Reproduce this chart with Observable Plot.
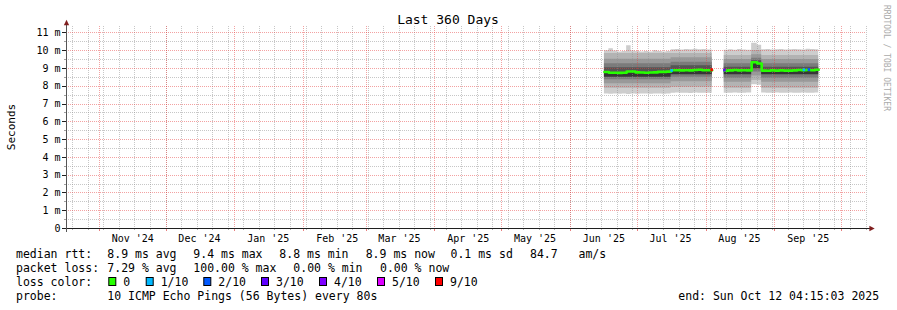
<!DOCTYPE html>
<html><head><meta charset="utf-8">
<script src="https://cdn.jsdelivr.net/npm/d3@7"></script>
<script src="https://cdn.jsdelivr.net/npm/@observablehq/plot@0.6"></script>
<style>
html,body{margin:0;padding:0;background:#fff;}
#wrap{position:relative;width:897px;height:310px;overflow:hidden;background:#fff;}
#wrap svg{position:absolute;left:0;top:0;}
</style></head><body><div id="wrap"></div>
<script>
// ---------- data ----------
const endTime = new Date("2025-10-12T04:15:03Z");
const startTime = new Date(endTime.getTime() - 360 * 864e5);
const yMax = 11.36;

const yTickValues = [0, 1, 2, 3, 4, 5, 6, 7, 8, 9, 10, 11];
const yTickLabels = ["0", "1 m", "2 m", "3 m", "4 m", "5 m", "6 m", "7 m", "8 m", "9 m", "10 m", "11 m"];
const yMinorValues = [0.5, 1.5, 2.5, 3.5, 4.5, 5.5, 6.5, 7.5, 8.5, 9.5, 10.5];

const monthLabelDates = ["2024-11-16", "2024-12-16", "2025-01-16", "2025-02-16", "2025-03-16", "2025-04-16", "2025-05-16", "2025-06-16", "2025-07-16", "2025-08-16", "2025-09-16"];
const monthLabels = ["Nov '24", "Dec '24", "Jan '25", "Feb '25", "Mar '25", "Apr '25", "May '25", "Jun '25", "Jul '25", "Aug '25", "Sep '25"];

// segment 1
const seg1Dates = ["2025-06-16T06:00Z","2025-06-18T06:00Z","2025-06-20T06:00Z","2025-06-22T06:00Z","2025-06-24T06:00Z","2025-06-26T06:00Z","2025-06-28T06:00Z","2025-06-30T06:00Z","2025-07-02T06:00Z","2025-07-04T06:00Z","2025-07-06T06:00Z","2025-07-08T06:00Z","2025-07-10T06:00Z","2025-07-12T06:00Z","2025-07-14T06:00Z","2025-07-16T06:00Z","2025-07-18T06:00Z","2025-07-20T06:00Z","2025-07-22T06:00Z","2025-07-24T06:00Z","2025-07-26T06:00Z","2025-07-28T06:00Z","2025-07-30T06:00Z","2025-08-01T06:00Z"];
const seg1End = "2025-08-03T18:00Z";
const seg1Median = [8.80, 8.76, 8.76, 8.75, 8.76, 8.83, 8.83, 8.78, 8.77, 8.76, 8.77, 8.78, 8.81, 8.81, 8.82, 8.90, 8.90, 8.89, 8.90, 8.89, 8.91, 8.93, 8.90, 8.90];
const seg1Max = [9.99, 10.11, 9.98, 9.93, 9.95, 10.28, 9.98, 9.96, 9.93, 9.95, 9.92, 10.00, 9.95, 9.93, 9.96, 10.05, 10.07, 10.04, 10.06, 10.05, 10.08, 10.05, 10.06, 10.04];
const seg1Min = [7.57, 7.55, 7.56, 7.55, 7.57, 7.54, 7.56, 7.55, 7.57, 7.56, 7.55, 7.56, 7.57, 7.55, 7.56, 7.60, 7.62, 7.60, 7.61, 7.59, 7.62, 7.60, 7.61, 7.60];

// segment 2
const seg2Dates = ["2025-08-09T04:00Z","2025-08-11T04:00Z","2025-08-13T04:00Z","2025-08-15T04:00Z","2025-08-17T04:00Z","2025-08-19T04:00Z","2025-08-21T12:00Z","2025-08-24T00:00Z","2025-08-26T00:00Z","2025-08-28T00:00Z","2025-08-30T00:00Z","2025-09-01T00:00Z","2025-09-03T00:00Z","2025-09-05T00:00Z","2025-09-07T00:00Z","2025-09-09T00:00Z","2025-09-11T00:00Z","2025-09-13T00:00Z","2025-09-15T00:00Z","2025-09-17T00:00Z","2025-09-19T00:00Z"];
const seg2End = "2025-09-20T16:00Z";
const seg2Median = [8.88, 8.89, 8.91, 8.89, 8.90, 8.89, 9.35, 9.28, 8.88, 8.87, 8.89, 8.88, 8.89, 8.88, 8.88, 8.89, 8.91, 8.90, 8.91, 8.90, 8.93];
const seg2Max = [10.02, 10.05, 10.03, 10.06, 10.04, 10.02, 10.42, 10.30, 10.05, 10.07, 10.04, 10.05, 10.06, 10.04, 10.05, 10.07, 10.05, 10.04, 10.08, 10.06, 10.05];
const seg2Min = [7.61, 7.60, 7.62, 7.60, 7.61, 7.62, 8.09, 8.06, 7.62, 7.61, 7.60, 7.62, 7.61, 7.60, 7.62, 7.61, 7.60, 7.62, 7.61, 7.60, 7.62];

// inner ping levels (sorted pings 2..9) per period
const periodStarts = ["2025-06-16T06:00Z", "2025-07-16T06:00Z", "2025-08-09T04:00Z", "2025-08-21T12:00Z", "2025-08-26T00:00Z"];
const pingP2 = [7.89, 7.95, 7.89, 8.33, 7.89];
const pingP3 = [8.14, 8.25, 8.23, 8.58, 8.23];
const pingP4 = [8.36, 8.50, 8.45, 8.80, 8.45];
const pingP5 = [8.51, 8.65, 8.64, 8.99, 8.64];
const pingP6 = [9.04, 9.15, 9.07, 9.43, 9.07];
const pingP7 = [9.26, 9.35, 9.26, 9.58, 9.26];
const pingP8 = [9.52, 9.60, 9.50, 9.77, 9.50];
const pingP9 = [9.84, 9.84, 9.73, 10.01, 9.73];

// loss events on the median line
const lossDates = ["2025-07-16T12:00Z", "2025-08-03T12:00Z", "2025-08-09T06:00Z", "2025-09-14T00:00Z", "2025-09-16T06:00Z"];
const lossMedian = [8.86, 8.90, 8.88, 8.90, 8.91];
const lossLevel = [1, 6, 3, 1, 2];

const lossLabels = ["0", "1/10", "2/10", "3/10", "4/10", "5/10", "9/10"];
const lossColors = ["#26ff00", "#00b8ff", "#0059ff", "#5e00ff", "#7e00ff", "#dd00ff", "#ff0000"];

const rttStats = ["8.9 ms avg", "9.4 ms max", "8.8 ms min", "8.9 ms now", "0.1 ms sd", "84.7   am/s"];
const lossStats = ["7.29 % avg", "100.00 % max", "0.00 % min", "0.00 % now"];
const probeText = "10 ICMP Echo Pings (56 Bytes) every 80s";
const endText = "end: Sun Oct 12 04:15:03 2025";
const titleText = "Last 360 Days";

// ---------- build table ----------
function periodIndex(t) {
  let k = 0;
  periodStarts.forEach((s, j) => { if (new Date(s) <= t) k = j; });
  return k;
}
function buildSegment(id, dates, endDate, med, mx, mn) {
  const rows = dates.map((d, i) => {
    const t = new Date(d);
    const k = periodIndex(t);
    return {seg: id, date: t, med: med[i], p1: mn[i], p2: pingP2[k], p3: pingP3[k], p4: pingP4[k], p5: pingP5[k],
            p6: pingP6[k], p7: pingP7[k], p8: pingP8[k], p9: pingP9[k], p10: mx[i]};
  });
  rows.push({...rows[rows.length - 1], date: new Date(endDate)});
  return rows;
}
const rows = [
  ...buildSegment(1, seg1Dates, seg1End, seg1Median, seg1Max, seg1Min),
  ...buildSegment(2, seg2Dates, seg2End, seg2Median, seg2Max, seg2Min)
];
const losses = lossDates.map((d, i) => ({date: new Date(d), med: lossMedian[i], color: lossColors[lossLevel[i]]}));

const bands = [["p1", "p10", "#cdcdcd"], ["p2", "p9", "#b3b3b3"], ["p3", "p8", "#999999"], ["p4", "p7", "#7b7b7b"], ["med", "p6", "#555555"], ["p5", "med", "#363636"]];

const weekDates = d3.utcSunday.range(startTime, endTime);
const monthDates = d3.utcMonth.range(startTime, endTime);

const gridGrey = {stroke: "#8f8f8f", strokeOpacity: 0.5, strokeDasharray: "1,1", shapeRendering: "crispEdges"};
const gridRed = {stroke: "#e63c3c", strokeOpacity: 0.48, strokeDasharray: "1,1", shapeRendering: "crispEdges"};

const triRight = {draw(ctx, size) { const s = Math.sqrt(size); ctx.moveTo(s * 0.6, 0); ctx.lineTo(-s * 0.4, -s * 0.5); ctx.lineTo(-s * 0.4, s * 0.5); ctx.closePath(); }};
const triUp = {draw(ctx, size) { const s = Math.sqrt(size); ctx.moveTo(0, -s * 0.6); ctx.lineTo(s * 0.5, s * 0.4); ctx.lineTo(-s * 0.5, s * 0.4); ctx.closePath(); }};

const chart = Plot.plot({
  width: 897, height: 310,
  marginLeft: 66, marginRight: 31, marginTop: 26, marginBottom: 82,
  style: {background: "#fff", fontFamily: "DejaVu Sans Mono", fontSize: "10px", color: "#000", overflow: "visible"},
  x: {type: "utc", domain: [startTime, endTime], axis: null},
  y: {domain: [0, yMax], axis: null},
  marks: [
    ...bands.map(([a, b, c]) => Plot.areaY(rows, {x: "date", y1: a, y2: b, z: "seg", fill: c, curve: "step-after"})),
    Plot.ruleX(weekDates, gridGrey),
    Plot.ruleY(yMinorValues, gridGrey),
    Plot.ruleX(monthDates, gridRed),
    Plot.ruleY(yTickValues.filter(v => v > 0), gridRed),
    Plot.line(rows, {x: "date", y: "med", z: "seg", stroke: lossColors[0], strokeWidth: 2.6, curve: "step-after"}),
    Plot.ruleX(losses, {x: "date", y1: d => d.med - 0.08, y2: d => d.med + 0.08, stroke: "color", strokeWidth: 2.5}),
    // ticks
    Plot.ruleX(weekDates, {y1: 0, y2: 0, insetBottom: -2, stroke: "#b0b0b0", shapeRendering: "crispEdges"}),
    Plot.ruleX(monthDates, {y1: 0, y2: 0, insetBottom: -3, stroke: "#e88080", shapeRendering: "crispEdges"}),
    Plot.ruleY(yTickValues, {x1: () => startTime, x2: () => startTime, insetLeft: -4, stroke: "#1f1f1f", shapeRendering: "crispEdges"}),
    Plot.ruleY(yMinorValues, {x1: () => startTime, x2: () => startTime, insetLeft: -2, stroke: "#a0a0a0", shapeRendering: "crispEdges"}),
    // axis lines
    Plot.ruleY([0], {insetLeft: -4, insetRight: -4, stroke: "#1f1f1f", shapeRendering: "crispEdges"}),
    Plot.ruleX([startTime], {y1: yMax, y2: 0, insetTop: -4, insetBottom: -4, stroke: "#555555", shapeRendering: "crispEdges"}),
    Plot.dot([0], {x: () => endTime, y: 0, dx: 5, symbol: triRight, r: 3, fill: "#801f1f", stroke: null}),
    Plot.dot([0], {x: () => startTime, y: yMax, dy: -3.5, symbol: triUp, r: 3, fill: "#801f1f", stroke: null}),
    // labels
    Plot.text(yTickValues, {x: () => startTime, y: d => d, text: (d, i) => yTickLabels[i], textAnchor: "end", dx: -6, fontSize: 10, fill: "#000"}),
    Plot.text(monthLabelDates, {x: d => new Date(d + "T00:00Z"), y: () => 0, text: (d, i) => monthLabels[i], dy: 10, fontSize: 10, fill: "#000"})
  ]
});
const wrap = document.getElementById("wrap");
wrap.appendChild(chart);

// ---------- overlay texts ----------
const ov = d3.select(wrap).append("svg").attr("width", 897).attr("height", 310)
  .style("font-family", "DejaVu Sans Mono").style("white-space", "pre");
ov.append("text").attr("x", 448).attr("y", 24).attr("text-anchor", "middle").attr("font-size", 13).text(titleText);
ov.append("text").attr("transform", "translate(15,127) rotate(-90)").attr("text-anchor", "middle").attr("font-size", 11).text("Seconds");
ov.append("text").attr("transform", "translate(884,5) rotate(90)").attr("font-size", 8).attr("fill", "#aaaaaa").text("RRDTOOL / TOBI OETIKER");

const fs = 11.5;
function put(x, y, s) { ov.append("text").attr("x", x).attr("y", y).attr("font-size", fs).attr("xml:space", "preserve").text(s); }
put(16, 258, "median rtt:");
[107.3, 193.3, 279.3, 365.7, 450.5, 530].forEach((x, i) => put(x, 258, rttStats[i]));
put(16, 272, "packet loss:");
[107.3, 193.3, 293.3, 380].forEach((x, i) => put(x, 272, lossStats[i]));
put(16, 286, "loss color:");
[108.3, 145.7, 203.3, 261, 319, 377, 435].forEach((x, i) => {
  ov.append("rect").attr("x", x + 0.5).attr("y", 277.5).attr("width", 7).attr("height", 8)
    .attr("fill", lossColors[i]).attr("stroke", "#000").attr("stroke-width", 1);
  put(x + 15, 286, lossLabels[i]);
});
put(16, 300, "probe:");
put(107.3, 300, probeText);
put(678.3, 300, endText);
</script></body></html>
